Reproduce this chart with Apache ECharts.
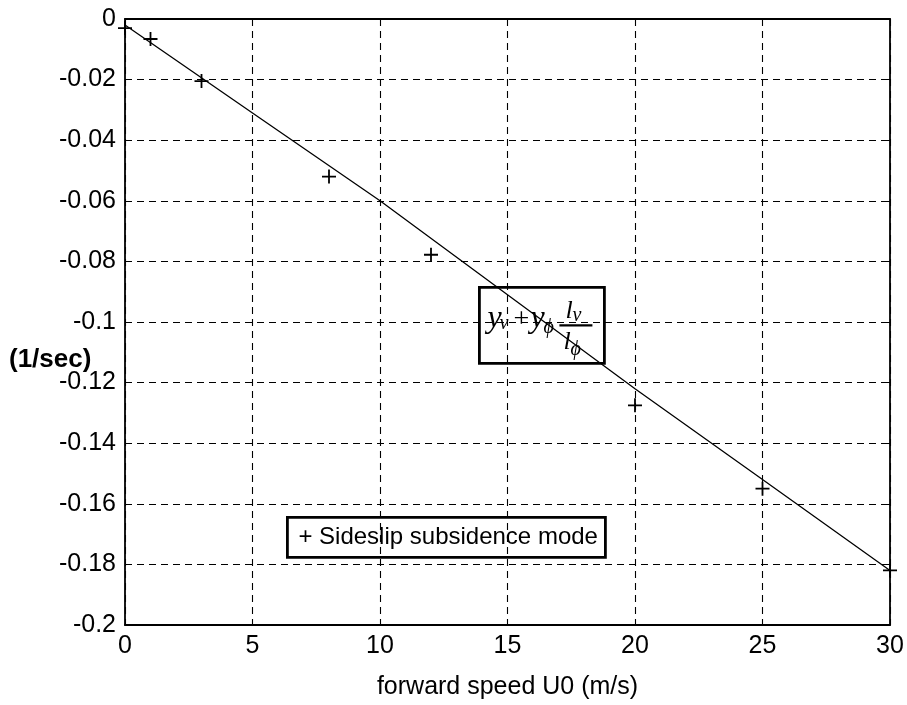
<!DOCTYPE html>
<html><head><meta charset="utf-8">
<script src="https://cdn.jsdelivr.net/npm/echarts@6/dist/echarts.min.js"></script>
<style>html,body{margin:0;padding:0;background:#fff}#c{width:907px;height:705px}</style>
</head><body><div id="c"></div>
<script>
// Data
const markerX = [0, 1, 3, 8, 12, 20, 25, 30];
const markerY = [-0.003, -0.0066, -0.0205, -0.052, -0.0778, -0.1275, -0.155, -0.182];
const lineX = [0, 5, 10, 15, 20, 25, 30];
const lineY = [-0.002, -0.031, -0.060, -0.091, -0.122, -0.152, -0.182];
const xTicks = [0, 5, 10, 15, 20, 25, 30];
const yTicks = [0, -0.02, -0.04, -0.06, -0.08, -0.1, -0.12, -0.14, -0.16, -0.18, -0.2];
const xName = 'forward speed U0 (m/s)';
const yName = '(1/sec)';
const legendText = '+ Sideslip subsidence mode';

const chart = echarts.init(document.getElementById('c'), null, {renderer: 'canvas'});
const F = 'Liberation Sans, Arial, sans-serif';
const S = 'Liberation Serif, Times New Roman, serif';
const grid = {left: 125, right: 17, top: 19, bottom: 79};
const dash = {color: '#000', width: 1.1, type: [7, 5]};
const baseX = {type: 'value', min: 0, max: 30, interval: 5,
  axisLine: {show: true, onZero: false, lineStyle: {color: '#000', width: 1.8}},
  axisTick: {show: true, inside: true, length: 6, lineStyle: {color: '#000'}},
  splitLine: {show: false}};
const baseY = {type: 'value', min: -0.2, max: 0, interval: 0.02,
  axisLine: {show: true, onZero: false, lineStyle: {color: '#000', width: 1.8}},
  axisTick: {show: true, inside: true, length: 6, lineStyle: {color: '#000'}},
  splitLine: {show: false}};

const plus = 'path://M0,7L14,7M7,0L7,14';

chart.setOption({
  animation: false,
  backgroundColor: '#fff',
  grid: grid,
  xAxis: [
    Object.assign({}, baseX, {position: 'bottom',
      axisLabel: {color: '#000', fontSize: 25, fontFamily: F, margin: 9,
        formatter: v => xTicks.includes(v) ? String(v) : ''},
      splitLine: {show: true, lineStyle: dash},
      name: xName, nameLocation: 'middle', nameGap: 50,
      nameTextStyle: {color: '#000', fontSize: 25, fontFamily: F}}),
    Object.assign({}, baseX, {position: 'top', axisLabel: {show: false}})
  ],
  yAxis: [
    Object.assign({}, baseY, {position: 'left',
      axisLabel: {color: '#000', fontSize: 25, fontFamily: F, margin: 9,
        formatter: v => { const t = yTicks.find(k => Math.abs(k - v) < 1e-9); return t === undefined ? '' : String(t); }},
      splitLine: {show: true, lineStyle: dash}}),
    Object.assign({}, baseY, {position: 'right', axisLabel: {show: false}})
  ],
  series: [
    {type: 'line', data: lineX.map((x, i) => [x, lineY[i]]), symbol: 'none',
      lineStyle: {color: '#000', width: 1.3}, z: 3},
    {type: 'scatter', data: markerX.map((x, i) => [x, markerY[i]]), symbol: plus,
      symbolSize: 14, itemStyle: {color: 'none', borderColor: '#000', borderWidth: 1.8, opacity: 1}, z: 4}
  ],
  graphic: [
    {type: 'text', left: 9, top: 347, style: {text: yName, fill: '#000', font: 'bold 26px ' + F}},
    {type: 'group', left: 478, top: 286, z: 100, children: [
      {type: 'rect', shape: {x: 0, y: 0, width: 125, height: 76}, style: {fill: '#fff', stroke: '#000', lineWidth: 2.8}},
      {type: 'text', x: 8, y: 47, style: {text: 'y', font: 'italic 32px ' + S, fill: '#000', textVerticalAlign: 'bottom'}},
      {type: 'text', x: 20, y: 46, style: {text: 'v', font: 'italic 20px ' + S, fill: '#000', textVerticalAlign: 'bottom'}},
      {type: 'text', x: 34, y: 46, style: {text: '+', font: '28px ' + S, fill: '#000', textVerticalAlign: 'bottom'}},
      {type: 'text', x: 51, y: 47, style: {text: 'y', font: 'italic 32px ' + S, fill: '#000', textVerticalAlign: 'bottom'}},
      {type: 'text', x: 64, y: 50, style: {text: 'ϕ', font: 'italic 20px ' + S, fill: '#000', textVerticalAlign: 'bottom'}},
      {type: 'line', shape: {x1: 80, y1: 38, x2: 113, y2: 38}, style: {stroke: '#000', lineWidth: 2.4}},
      {type: 'text', x: 86, y: 37, style: {text: 'l', font: 'italic 26px ' + S, fill: '#000', textVerticalAlign: 'bottom'}},
      {type: 'text', x: 93, y: 38, style: {text: 'v', font: 'italic 20px ' + S, fill: '#000', textVerticalAlign: 'bottom'}},
      {type: 'text', x: 84, y: 68, style: {text: 'l', font: 'italic 26px ' + S, fill: '#000', textVerticalAlign: 'bottom'}},
      {type: 'text', x: 91, y: 72, style: {text: 'ϕ', font: 'italic 20px ' + S, fill: '#000', textVerticalAlign: 'bottom'}}
    ]},
    {type: 'group', left: 286, top: 516, z: 100, children: [
      {type: 'rect', shape: {x: 0, y: 0, width: 318, height: 40}, style: {fill: '#fff', stroke: '#000', lineWidth: 2.8}},
      {type: 'text', x: 11, y: 20, style: {text: legendText, font: '24px ' + F, fill: '#000', textVerticalAlign: 'middle'}}
    ]}
  ]
});
</script></body></html>
